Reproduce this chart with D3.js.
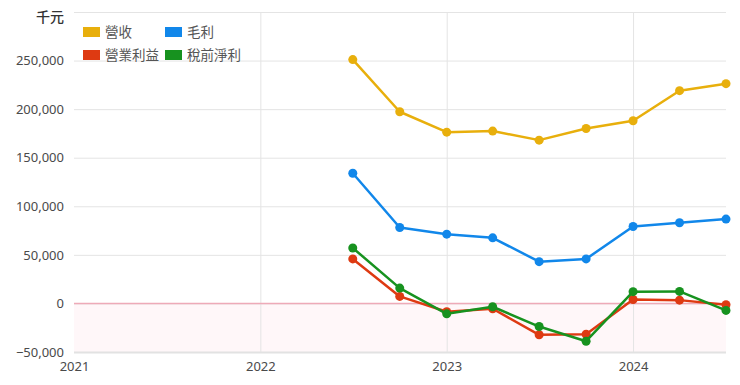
<!DOCTYPE html>
<html>
<head>
<meta charset="utf-8">
<script src="https://cdn.jsdelivr.net/npm/d3@7"></script>
<style>
  html, body { margin: 0; padding: 0; background: #fff; }
  body { width: 740px; height: 385px; overflow: hidden; }
  svg text { font-family: "Noto Sans", "Noto Sans CJK TC", sans-serif; }
</style>
</head>
<body>
<div id="chart"></div>
<script>
const WIDTH = 740;
const HEIGHT = 385;

const quarters = ['2022-07-01', '2022-10-01', '2023-01-01', '2023-04-01', '2023-07-01',
  '2023-10-01', '2024-01-01', '2024-04-01', '2024-07-01'];

const revenue = [251000, 197300, 176300, 177400, 168100, 180100, 188000, 219000, 226200];
const grossProfit = [134000, 78200, 71300, 67500, 43000, 45800, 79200, 83000, 86800];
const operatingIncome = [45800, 7200, -8600, -5500, -32300, -31700, 4100, 3400, -1400];
const pretaxIncome = [57100, 15800, -10700, -3400, -23800, -38900, 12100, 12400, -7200];

const seriesNames = ['營收', '毛利', '營業利益', '稅前淨利'];
const seriesColors = ['#e8af0c', '#1187ea', '#de3a12', '#17921f'];

const yTicks = [-50000, 0, 50000, 100000, 150000, 200000, 250000, 300000];
const xTickYears = ['2021-01-01', '2022-01-01', '2023-01-01', '2024-01-01'];

const margin = { top: 12, right: 14, bottom: 33, left: 74 };

const parseDate = d3.timeParse('%Y-%m-%d');
const dates = quarters.map(parseDate);

const x = d3.scaleTime()
  .domain([parseDate('2021-01-01'), parseDate('2024-07-01')])
  .range([margin.left, WIDTH - margin.right]);

const y = d3.scaleLinear()
  .domain([-50000, 300000])
  .range([HEIGHT - margin.bottom, margin.top]);

const svg = d3.select('#chart')
  .append('svg')
  .attr('width', WIDTH)
  .attr('height', HEIGHT);

// negative zone shading
svg.append('rect')
  .attr('x', x.range()[0])
  .attr('y', y(0))
  .attr('width', x.range()[1] - x.range()[0])
  .attr('height', y(-50000) - y(0))
  .attr('fill', '#fff7f9');

// horizontal grid + y labels
const yAxis = svg.append('g')
  .attr('transform', `translate(${margin.left},0)`)
  .call(d3.axisLeft(y)
    .tickValues(yTicks)
    .tickSize(-(WIDTH - margin.left - margin.right))
    .tickPadding(10)
    .tickFormat(d => d === 300000 ? '' : d3.format(',')(d)));

yAxis.select('.domain').remove();
yAxis.selectAll('.tick line')
  .attr('stroke', '#e4e4e4')
  .attr('stroke-width', 1);
yAxis.selectAll('.tick line')
  .filter(d => d === -50000)
  .attr('stroke', '#e2e2e2')
  .attr('stroke-width', 2);
yAxis.selectAll('.tick text')
  .attr('fill', '#4a4a4a')
  .style('font-size', '13px');

// vertical grid + x labels
const xAxis = svg.append('g')
  .attr('transform', `translate(0,${HEIGHT - margin.bottom})`)
  .call(d3.axisBottom(x)
    .tickValues(xTickYears.map(parseDate))
    .tickSize(-(HEIGHT - margin.top - margin.bottom))
    .tickPadding(10)
    .tickFormat(d3.timeFormat('%Y')));

xAxis.select('.domain').remove();
xAxis.selectAll('.tick line')
  .attr('stroke', '#e4e4e4')
  .attr('stroke-width', 1)
  .filter((d, i) => i === 0)
  .remove();
xAxis.selectAll('.tick text')
  .attr('fill', '#4a4a4a')
  .style('font-size', '13px');

// zero line
svg.append('line')
  .attr('x1', x.range()[0])
  .attr('x2', x.range()[1])
  .attr('y1', y(0))
  .attr('y2', y(0))
  .attr('stroke', '#eeaab8')
  .attr('stroke-width', 1.5);

// unit label
svg.append('text')
  .attr('x', 64)
  .attr('y', 22)
  .attr('text-anchor', 'end')
  .attr('fill', '#333')
  .style('font-family', '"Noto Sans CJK TC", sans-serif')
  .style('font-size', '14px')
  .style('font-weight', '500')
  .text('千元');

// series
const allSeries = [revenue, grossProfit, operatingIncome, pretaxIncome];
const line = d3.line()
  .x((d, i) => x(dates[i]))
  .y(d => y(d));

allSeries.forEach((values, s) => {
  const g = svg.append('g');
  g.append('path')
    .datum(values)
    .attr('d', line)
    .attr('fill', 'none')
    .attr('stroke', seriesColors[s])
    .attr('stroke-width', 2.5)
    .attr('stroke-linejoin', 'round');
  g.selectAll('circle')
    .data(values)
    .join('circle')
    .attr('cx', (d, i) => x(dates[i]))
    .attr('cy', d => y(d))
    .attr('r', 4.5)
    .attr('fill', seriesColors[s]);
});

// legend
const legend = svg.append('g')
  .attr('transform', 'translate(83,27)');

const legendItems = legend.selectAll('g')
  .data(seriesNames)
  .join('g')
  .attr('transform', (d, i) => `translate(${(i % 2) * 82},${Math.floor(i / 2) * 23})`);

legendItems.append('rect')
  .attr('width', 17)
  .attr('height', 10)
  .attr('fill', (d, i) => seriesColors[i]);

legendItems.append('text')
  .attr('x', 22)
  .attr('y', 10)
  .attr('fill', '#555')
  .style('font-family', '"Noto Sans CJK TC", sans-serif')
  .style('font-size', '13.5px')
  .text(d => d);
</script>
</body>
</html>
